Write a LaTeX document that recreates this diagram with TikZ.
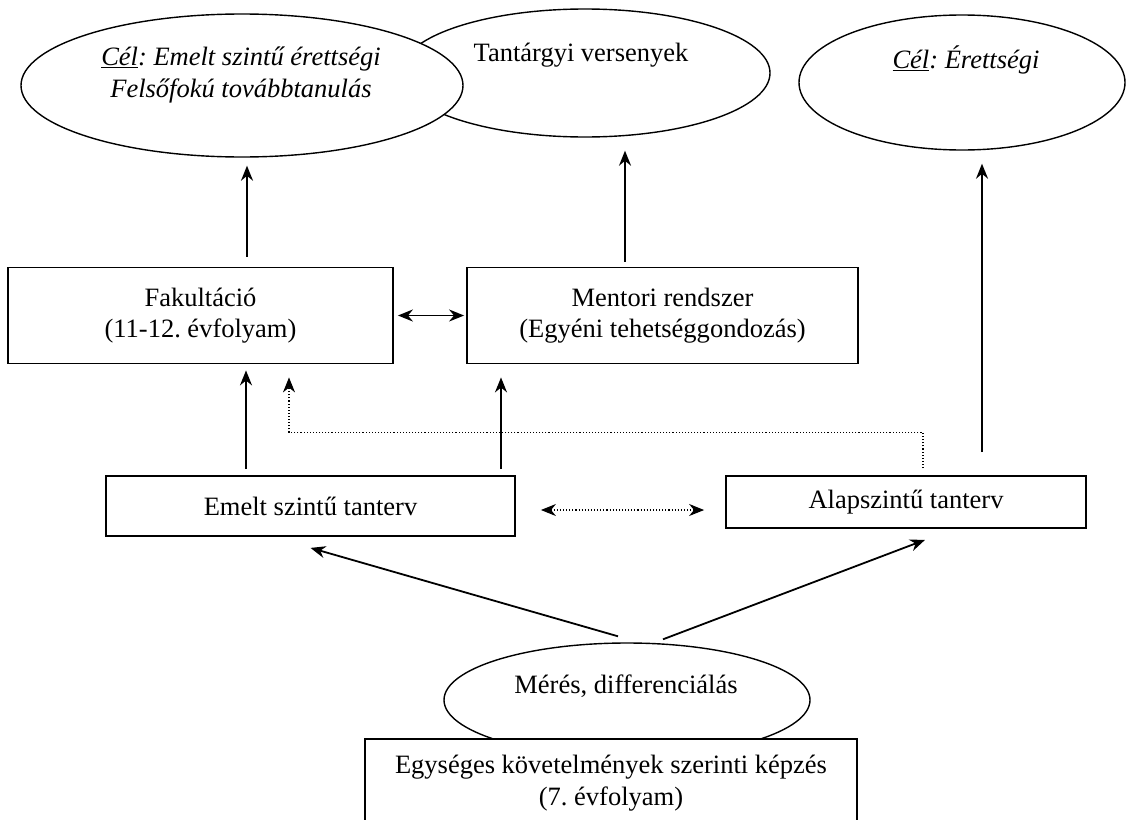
\documentclass[tikz,border=0pt]{standalone}
\usepackage{fontspec}
\setmainfont{Liberation Serif}
\usetikzlibrary{shapes.geometric,arrows.meta}
\frenchspacing

\begin{document}
\begin{tikzpicture}[x=1pt,y=-1pt,
  every node/.style={font=\fontsize{26.5}{31.5}\selectfont, align=center, inner sep=0pt},
  oval/.style={ellipse, draw, fill=white, line width=1.4pt},
  box/.style={rectangle, draw, fill=white, line width=1.8pt},
  arr/.style={-{Stealth[length=15pt,width=12pt]}, line width=1.8pt},
  arrs/.style={{Stealth[length=15pt,width=12pt]}-{Stealth[length=15pt,width=12pt]}, line width=1.8pt},
  dotline/.style={line width=1.1pt, dash pattern=on 1.1pt off 2pt}]

\useasboundingbox (0,0) rectangle (1126,819);

% Célok
\node[oval, minimum width=370pt, minimum height=128pt] (vers) at (585,73) {};
\node (verst) at (581,55) {Tantárgyi versenyek};
\node[oval, minimum width=442pt, minimum height=143pt] (celA) at (242,85.5) {};
\node (celAt) at (241,75) {\textit{\underline{Cél}: Emelt szintű érettségi}\\\textit{Felsőfokú továbbtanulás}};
\node[oval, minimum width=326pt, minimum height=135pt] (celB) at (962,82.5) {};
\node (celBt) at (966,60) {\textit{\underline{Cél}: Érettségi}};

% Fakultáció, mentori rendszer
\node[box, minimum width=385pt, minimum height=96pt] (fak) at (200.5,315.5) {Fakultáció\\(11-12. évfolyam)};
\node[box, minimum width=391pt, minimum height=96pt] (men) at (662.5,315.5) {Mentori rendszer\\(Egyéni tehetséggondozás)};

% Tantervek
\node[box, minimum width=409pt, minimum height=60pt] (emelt) at (310.5,506) {Emelt szintű tanterv};
\node[box, minimum width=360pt, minimum height=52pt] (alap) at (906,502) {Alapszintű tanterv};

% Mérés, képzés
\node[oval, minimum width=366pt, minimum height=114pt] (mer) at (627,700) {};
\node (mert) at (626,686) {Mérés, differenciálás};
\node[box, minimum width=492pt, minimum height=88pt] (kepz) at (611,783) {Egységes követelmények szerinti képzés\\(7. évfolyam)};

% Nyilak felfelé
\draw[arr, shorten <=10pt, shorten >=8pt] ([xshift=5pt]celA.south |- fak.north) -- ([xshift=5pt]celA.south);
\draw[arr, shorten <=5pt, shorten >=13pt] ([xshift=40pt]vers.south |- men.north) -- ([xshift=40pt]vers.south);
\draw[arr, shorten <=23pt, shorten >=13pt] ([xshift=20pt]celB.south |- alap.north) -- ([xshift=20pt]celB.south);
\draw[arr, shorten <=6pt, shorten >=6pt] ([xshift=-64.5pt]emelt.north) -- ([xshift=-64.5pt]emelt.north |- fak.south);
\draw[arr, shorten <=6pt, shorten >=13pt] ([xshift=190.5pt]emelt.north) -- ([xshift=190.5pt]emelt.north |- men.south);
\draw[arrs, shorten <=4pt, shorten >=2pt] (fak) -- (men);

% Pontozott kapcsolatok
\draw[arr, dotline] ([shift={(17pt,7pt)}]alap.north) |- ([shift={(88.5pt,-68pt)}]fak.south) -- ([shift={(88.5pt,-13pt)}]fak.south);
\draw[arrs, dotline, shorten <=25pt, shorten >=21pt] ([yshift=-4pt]emelt.east) -- ([yshift=-8pt]alap.west);

% Mérésből a tantervekbe
\draw[arr] ([shift={(-9pt,6pt)}]mer.north) -- ([yshift=-11pt]emelt.south);
\draw[arr] ([shift={(36pt,3pt)}]mer.north) -- ([shift={(19pt,-11pt)}]alap.south);

\end{tikzpicture}
\end{document}
